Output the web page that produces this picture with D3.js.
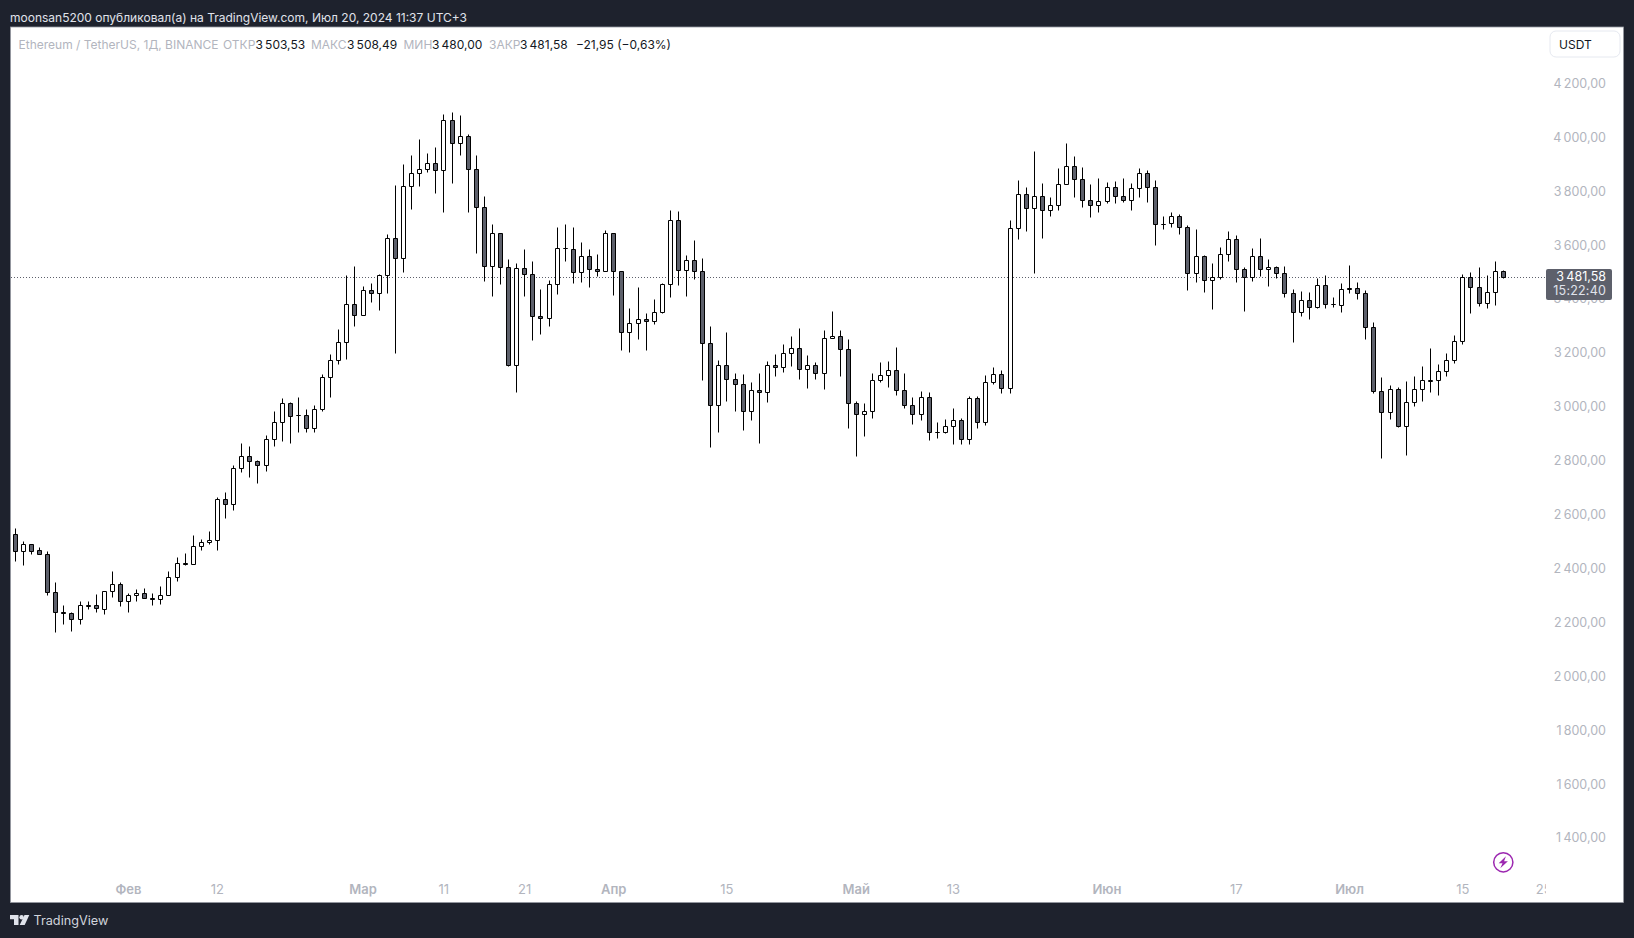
<!DOCTYPE html>
<html><head><meta charset="utf-8">
<script src="https://cdn.jsdelivr.net/npm/d3@7"></script>
<style>html,body{margin:0;padding:0;background:#1e222d}svg{display:block}text{font-family:Inter,"Noto Sans",sans-serif}</style>
</head><body><svg id="c" width="1634" height="938"></svg>
<script>
const opens=[2527,2467,2490,2468,2453,2312,2241,2234,2214,2261,
2264,2251,2316,2342,2282,2301,2308,2293,2286,2301,
2371,2423,2416,2483,2498,2505,2657,2639,2772,2820,
2798,2783,2880,2943,3013,2969,2969,2921,2991,3110,
3173,3240,3381,3340,3433,3422,3489,3626,3552,3819,
3867,3882,3904,3878,4064,3978,4004,3882,3741,3522,
3644,3518,3157,3514,3492,3336,3329,3455,3589,3585,
3500,3559,3511,3503,3644,3503,3277,3310,3325,3318,
3351,3455,3693,3507,3544,3503,3236,3006,3155,3103,
3084,2984,3062,3054,3155,3147,3199,3218,3140,3155,
3128,3255,3262,3214,3013,2973,2984,3102,3117,3136,
3062,3006,2973,3036,2909,2909,2928,2950,2880,3032,
2943,3091,3121,3069,3663,3789,3737,3782,3730,3748,
3826,3893,3845,3767,3748,3763,3815,3782,3767,3811,
3867,3815,3680,3681,3707,3667,3496,3559,3470,3481,
3566,3622,3511,3481,3559,3511,3518,3496,3422,3351,
3396,3370,3451,3381,3377,3440,3440,3422,3296,3058,
2980,3065,2928,3017,3065,3098,3099,3132,3173,3244,
3481,3444,3385,3425,3503.53];
const highs=[2550,2501,2490,2479,2464,2350,2265,2241,2280,2280,
2306,2319,2390,2350,2308,2323,2327,2308,2335,2390,
2442,2460,2525,2512,2540,2665,2683,2783,2865,2854,
2803,2895,2984,3032,3017,3036,2991,3006,3121,3195,
3289,3489,3522,3448,3460,3492,3641,3822,3900,3934,
3993,3941,3963,4086,4093,4082,4012,3934,3782,3678,
3644,3548,3533,3585,3540,3436,3470,3667,3678,3667,
3611,3585,3566,3655,3644,3503,3366,3444,3347,3399,
3459,3730,3726,3563,3618,3552,3299,3173,3277,3128,
3121,3091,3128,3169,3195,3232,3262,3292,3192,3166,
3284,3355,3284,3251,3021,3013,3125,3166,3169,3221,
3128,3036,3058,3054,2943,2954,2995,2958,3039,3039,
3117,3147,3136,3693,3841,3815,3949,3830,3778,3886,
3978,3930,3889,3826,3848,3834,3837,3848,3830,3886,
3878,3841,3707,3722,3715,3674,3659,3563,3533,3592,
3652,3637,3518,3589,3626,3548,3522,3522,3437,3429,
3425,3477,3489,3407,3459,3526,3462,3433,3314,3110,
3080,3073,3095,3114,3151,3218,3158,3199,3269,3492,
3500,3518,3489,3540,3508.49];
const lows=[2430,2415,2455,2453,2303,2166,2196,2170,2196,2251,
2240,2233,2296,2262,2240,2281,2293,2266,2270,2301,
2355,2412,2416,2470,2492,2470,2589,2619,2760,2741,
2719,2764,2856,2875,2867,2908,2906,2908,2986,3038,
3161,3179,3302,3340,3391,3361,3424,3201,3502,3736,
3821,3873,3795,3725,3832,3936,3725,3573,3469,3413,
3458,3153,3057,3413,3250,3272,3302,3420,3543,3461,
3465,3446,3487,3503,3417,3213,3205,3253,3213,3309,
3347,3409,3454,3413,3476,3101,2853,2908,3023,2986,
2916,2953,2867,3020,3116,3131,3153,3105,3072,3105,
3068,3255,3116,2923,2819,2893,2960,3094,3075,3046,
2997,2938,2953,2879,2886,2902,2864,2864,2864,2923,
2934,3086,3053,3051,3625,3654,3498,3628,3710,3732,
3826,3778,3743,3706,3725,3756,3756,3762,3732,3780,
3762,3602,3662,3669,3643,3435,3465,3428,3365,3476,
3543,3465,3357,3469,3487,3450,3477,3409,3242,3339,
3328,3366,3368,3372,3354,3424,3402,3253,3053,2812,
2957,2924,2823,3005,3023,3057,3046,3116,3164,3235,
3350,3376,3368,3380,3480];
const closes=[2467,2490,2467,2453,2312,2241,2234,2215,2264,2265,
2253,2316,2342,2282,2301,2308,2293,2286,2301,2371,
2423,2416,2483,2498,2505,2657,2639,2772,2820,2798,
2783,2880,2943,3013,2965,2969,2921,2991,3110,3173,
3240,3381,3340,3433,3422,3489,3626,3552,3819,3867,
3882,3904,3878,4064,3978,4004,3882,3741,3522,3644,
3518,3157,3514,3492,3336,3329,3455,3589,3589,3500,
3559,3511,3503,3644,3503,3277,3310,3325,3318,3351,
3455,3693,3507,3544,3503,3236,3006,3155,3103,3084,
2984,3062,3054,3155,3147,3199,3218,3140,3155,3128,
3255,3262,3214,3013,2973,2984,3102,3117,3136,3062,
3006,2973,3036,2909,2909,2928,2950,2880,3032,2943,
3091,3121,3069,3663,3789,3737,3782,3730,3748,3826,
3893,3845,3767,3748,3763,3815,3782,3767,3811,3867,
3815,3678,3680,3707,3667,3496,3559,3470,3481,3566,
3622,3511,3481,3559,3511,3518,3496,3422,3351,3396,
3370,3451,3381,3381,3437,3437,3422,3296,3058,2980,
3065,2928,3017,3065,3099,3099,3132,3173,3244,3481,
3444,3385,3425,3503.5,3481.58];
const priceTicks=[1400,1600,1800,2000,2200,2400,2600,2800,3000,3200,3400,3600,3800,4000,4200];
const timeTickIndex=[14,25,43,53,63,74,88,104,116,135,151,165,179,189];
const timeTickLabels=["Фев","12","Мар","11","21","Апр","15","Май","13","Июн","17","Июл","15","25"];
const monthLabels=["Фев","Мар","Апр","Май","Июн","Июл"];
const headerText="moonsan5200 опубликовал(а) на TradingView.com, Июл 20, 2024 11:37 UTC+3";
const symbolText="Ethereum / TetherUS, 1Д, BINANCE";
const ohlcNames=["ОТКР","МАКС","МИН","ЗАКР"];
const changeText="−21,95 (−0,63%)";
const countdownText="15:22:40";

const svg=d3.select("#c");
const dark="#1e222d", filled="#5d606b", axisGrey="#b2b5be";
const ru=d3.formatLocale({decimal:",",thousands:"\u202f",grouping:[3],currency:["",""]});
const fmt=ru.format(",.2f");

const x=d3.scaleLinear().domain([0,184]).range([15.33,1503.3]);
const y=d3.scaleLinear().domain([1400,4200]).range([838.2,83.6]);

svg.append("rect").attr("width",1634).attr("height",938).attr("fill",dark);
svg.append("rect").attr("x",10.5).attr("y",27).attr("width",1613).attr("height",875.5)
   .attr("fill","#fff").attr("stroke","#9598a1").attr("stroke-width",.8);
const defs=svg.append("defs");
defs.append("clipPath").attr("id","timeClip").append("rect").attr("x",11).attr("y",870).attr("width",1535).attr("height",32);

// price axis
const ya=svg.append("g").attr("transform","translate(1606,0)")
  .call(d3.axisRight(y).tickValues(priceTicks).tickSize(0).tickFormat(fmt));
ya.select(".domain").remove();
ya.selectAll("text").attr("x",0).attr("dy","0.3em")
  .attr("text-anchor","end").attr("fill",axisGrey).style("font-size","12.5px").style("letter-spacing","0.2px");

// time axis
const xa=svg.append("g").attr("clip-path","url(#timeClip)")
  .append("g").attr("transform","translate(-0.6,889)")
  .call(d3.axisBottom(x).tickValues(timeTickIndex).tickSize(0).tickFormat((d,i)=>timeTickLabels[i]));
xa.select(".domain").remove();
xa.selectAll("text").attr("y",0).attr("dy","0.35em").attr("fill",axisGrey).style("font-size","13px")
  .style("font-weight",(d,i)=>monthLabels.includes(timeTickLabels[i])?600:400);

// last price line
const lastY=Math.round(y(closes[184]))+0.5;
svg.append("line").attr("x1",11).attr("x2",1546).attr("y1",lastY).attr("y2",lastY)
  .attr("stroke",filled).attr("stroke-dasharray","1 2");

// candles
const px=i=>Math.floor(x(i))+0.5, py=v=>Math.round(y(v))+0.5;
const idx=d3.range(opens.length);
const candles=svg.append("g").attr("stroke","#000").attr("stroke-width",1);
candles.selectAll("line").data(idx).join("line")
  .attr("x1",px).attr("x2",px).attr("y1",i=>py(highs[i])).attr("y2",i=>py(lows[i]));
candles.selectAll("path").data(idx).join("path")
  .attr("fill",i=>closes[i]<opens[i]?filled:"#fff")
  .attr("d",i=>{
    const t=py(Math.max(opens[i],closes[i])), b=py(Math.min(opens[i],closes[i]));
    return `M${px(i)-2},${t}H${px(i)+2}V${b}H${px(i)-2}Z`;
  });

// header
svg.append("text").attr("x",10).attr("y",18).attr("dy","0.35em").attr("fill","#e0e3eb")
  .style("font-size","12px").text(headerText);

const row=svg.append("g").style("font-size","12px");
const rowY=44.6;
const put=(tx,t,col)=>row.append("text").attr("x",tx).attr("y",rowY).attr("dy","0.35em").attr("fill",col).text(t);
put(18.5,symbolText,axisGrey);
const nameX=[223,311,403.5,489], valX=[255.5,347,432,520];
const vals=[opens[184],highs[184],lows[184],closes[184]];
ohlcNames.forEach((n,i)=>{put(nameX[i],n,axisGrey);put(valX[i],fmt(vals[i]),"#131722");});
put(576,changeText,"#131722");

// currency button
svg.append("rect").attr("x",1550).attr("y",31).attr("width",70).attr("height",26).attr("rx",6)
  .attr("fill","#fff").attr("stroke","#e6e9f0");
svg.append("text").attr("x",1559).attr("y",44.4).attr("dy","0.35em").attr("fill","#131722")
  .style("font-size","12px").text("USDT");

// last price badge
svg.append("rect").attr("x",1546).attr("y",269).attr("width",66).attr("height",31).attr("rx",2).attr("fill",filled);
svg.append("text").attr("x",1606).attr("y",277).attr("dy","0.35em").attr("text-anchor","end").attr("fill","#fff")
  .style("font-size","12.5px").style("letter-spacing","0.2px").text(fmt(closes[184]));
svg.append("text").attr("x",1606).attr("y",290.6).attr("dy","0.35em").attr("text-anchor","end").attr("fill","#e0e3eb")
  .style("font-size","12.5px").style("letter-spacing","0.2px").text(countdownText);

// bolt icon
const bolt=svg.append("g").attr("transform","translate(1503.3,862.3)");
bolt.append("circle").attr("r",9.6).attr("fill","#fff").attr("stroke","#9c27b0").attr("stroke-width",1.5);
bolt.append("path").attr("fill","#9c27b0").attr("d","M2.6,-6 L-4.6,1 H-0.8 L-3,6 L4.6,-1 H0.8 Z");

// footer logo
const logo=svg.append("g").attr("fill","#e0e3eb");
logo.append("path").attr("d","M10,915H18.5V925H14V919.3H10Z");
logo.append("circle").attr("cx",21.6).attr("cy",917.2).attr("r",2.2);
logo.append("path").attr("d","M24.5,915H29.3L24.7,925H19.7Z");
svg.append("text").attr("x",33.5).attr("y",920.6).attr("dy","0.35em").attr("fill","#d1d4dc")
  .style("font-size","12.7px").text("TradingView");
</script></body></html>
